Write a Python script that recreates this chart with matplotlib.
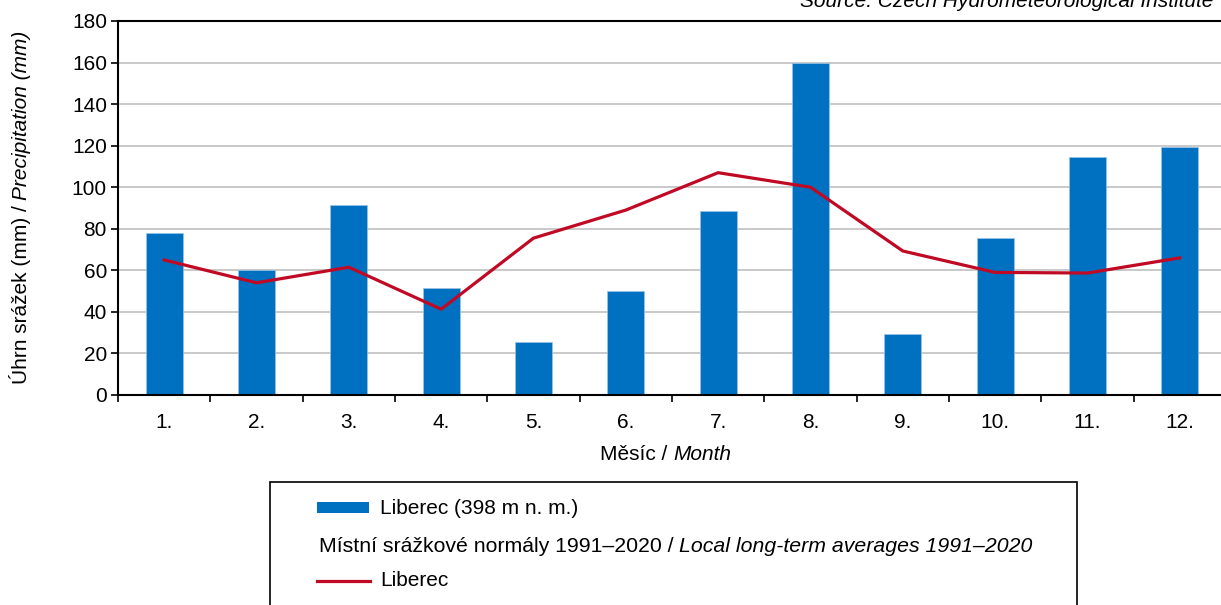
import numpy as np
import matplotlib
matplotlib.use("Agg")
import matplotlib.pyplot as plt
from matplotlib.patches import Rectangle
from matplotlib.lines import Line2D

plt.rcParams['font.family'] = ['Liberation Sans', 'DejaVu Sans']

# data
months = ["1.", "2.", "3.", "4.", "5.", "6.", "7.", "8.", "9.", "10.", "11.", "12."]
precip_2023 = [78, 60, 91.5, 51.5, 25.5, 50, 88.5, 160, 29.3, 75.5, 114.5, 119.3]
normal_1991_2020 = [65, 54, 61.5, 41.3, 75.5, 89, 107, 100, 69.3, 59, 58.7, 66]
station = "Liberec (398 m n. m.)"
normal_label = "Liberec"

BLUE = "#0070C0"
RED = "#C00A25"
FS = 15

W, H = 1221, 605
fig = plt.figure(figsize=(W / 100, H / 100), dpi=100)
ax = fig.add_axes([118 / W, 1 - 395 / H, (1226 - 118) / W, (395 - 21) / H])

x = np.arange(len(months))
ax.bar(x, precip_2023, width=0.4, color=BLUE, edgecolor="#9DC3E6", linewidth=0.5, zorder=2)
ax.plot(x, normal_1991_2020, color=RED, linewidth=2.3, zorder=3)

ax.set_xlim(-0.5, len(months) - 0.5)
ax.set_ylim(0, 180)
ax.set_yticks(np.arange(0, 181, 20))
ax.yaxis.grid(True, color="#C0C0C0", linewidth=1.2, zorder=0)
ax.set_axisbelow(True)

# ticks between categories, labels in the middle
ax.set_xticks(np.arange(-0.5, len(months), 1))
ax.set_xticklabels([])
ax.set_xticks(x, minor=True)
ax.set_xticklabels(months, minor=True, fontsize=FS)
ax.tick_params(axis="x", which="minor", length=0, pad=13)
ax.tick_params(axis="x", which="major", length=5, width=1.2, direction="out")
ax.tick_params(axis="y", length=5, width=1.2, labelsize=FS, pad=3)

for s in ["left", "bottom", "top"]:
    ax.spines[s].set_color("black")
    ax.spines[s].set_linewidth(1.5)
ax.spines["right"].set_visible(False)

# y label: regular + italic part
ylab1 = fig.text(31 / W, 1 - 384 / H, "Úhrn srážek (mm) / ", rotation=90,
                 fontsize=FS, ha="right", va="bottom")
fig.canvas.draw()
ax.annotate("Precipitation (mm)", xy=(1, 1), xycoords=ylab1, rotation=90,
            fontsize=FS, fontstyle="italic", ha="right", va="bottom")

# x label
xl1 = fig.text(673 / W, 1 - 454 / H, "Měsíc / ", fontsize=FS, ha="right", va="center")
fig.canvas.draw()
ax.annotate("Month", xy=(1, 0), xycoords=xl1, fontsize=FS, fontstyle="italic",
            ha="left", va="bottom")

# source, cut off by the top edge
fig.text(1213 / W, 1 - 7 / H, "Source: Czech Hydrometeorological Institute",
         fontsize=FS, fontstyle="italic", ha="right", va="baseline")

# legend box drawn by hand
fig.patches.append(Rectangle((270 / W, -0.1), (1077 - 270) / W, 0.1 + 1 - 482 / H,
                             transform=fig.transFigure, facecolor="white",
                             edgecolor="black", linewidth=1.2, zorder=-1))
fig.patches.append(Rectangle((317 / W, 1 - 513 / H), 52 / W, 11 / H,
                             transform=fig.transFigure, facecolor=BLUE, edgecolor="none"))
fig.text(380 / W, 1 - 509 / H, station, fontsize=FS, va="center")

t1 = fig.text(319 / W, 1 - 546 / H, "Místní srážkové normály 1991–2020 / ",
              fontsize=15.3, va="center")
fig.canvas.draw()
fig.add_artist(matplotlib.text.Annotation(
    "Local long-term averages 1991–2020", xy=(1, 0), xycoords=t1,
    fontsize=15.3, fontstyle="italic", ha="left", va="bottom"))

fig.lines.append(Line2D([317 / W, 370 / W], [1 - 581 / H, 1 - 581 / H],
                        transform=fig.transFigure, color=RED, linewidth=2.3))
fig.text(380 / W, 1 - 581 / H, normal_label, fontsize=FS, va="center")

fig.savefig("out.png", dpi=100)
